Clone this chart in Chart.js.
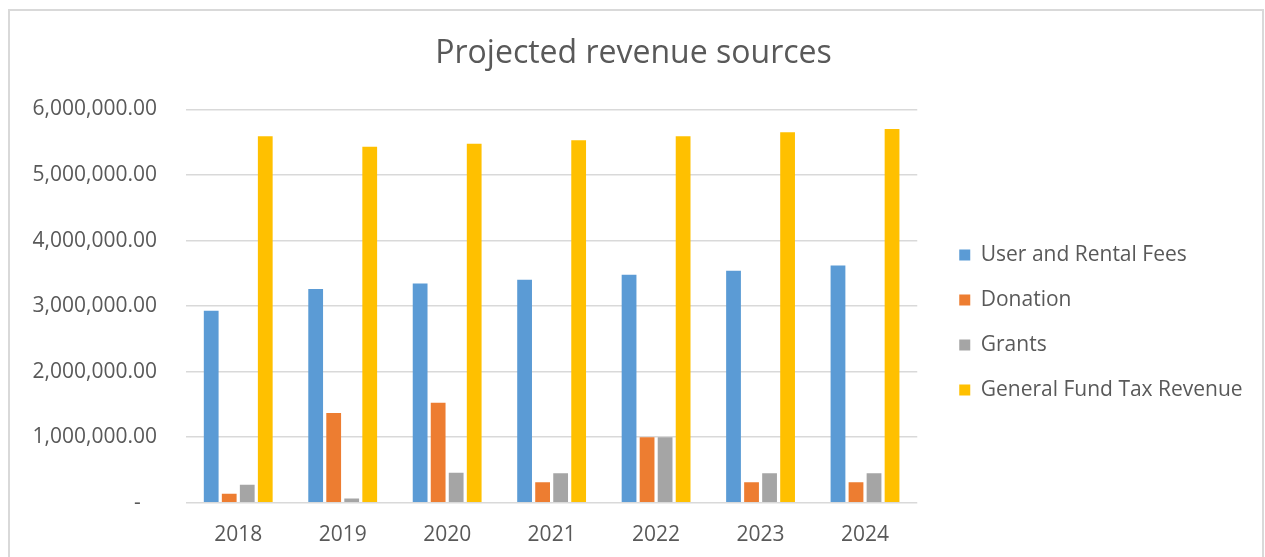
<!DOCTYPE html>
<html>
<head>
<meta charset="utf-8">
<script src="https://cdn.jsdelivr.net/npm/chart.js@4"></script>
<style>
    html, body { margin: 0; padding: 0; background: #fff; }
    #box {
        position: absolute;
        left: 8px;
        top: 9px;
        width: 1256px;
        height: 560px;
        border: 2px solid #d9d9d9;
        box-sizing: border-box;
    }
</style>
</head>
<body>
<div id="box"><canvas id="revenueChart"></canvas></div>
<script>
// values
let years = ["2018", "2019", "2020", "2021", "2022", "2023", "2024"];
let userRentalFees = [2930000, 3260000, 3345000, 3400000, 3480000, 3540000, 3620000];
let donation = [137000, 1370000, 1525000, 315000, 1000000, 315000, 315000];
let grants = [275000, 66000, 457000, 450000, 1000000, 450000, 450000];
let generalFundTax = [5590000, 5430000, 5475000, 5530000, 5590000, 5650000, 5700000];
let yTicks = [0, 1000000, 2000000, 3000000, 4000000, 5000000, 6000000];

let textColor = "#595959";
let fontName = "'Open Sans', sans-serif";

function fmt(v) {
    if (v === 0) return "-   ";
    return v.toLocaleString("en-US", { minimumFractionDigits: 2, maximumFractionDigits: 2 });
}

// leave some extra room between the plot and the legend, and nudge the legend down
let legendGap = 18;
let legendDrop = 37;
let legendSpacing = {
    id: "legendSpacing",
    beforeLayout(chart) {
        let lg = chart.legend;
        if (lg && !lg._gapPatched) {
            let fit = lg.fit;
            lg.fit = function() { fit.call(this); this.width += legendGap; };
            lg._gapPatched = true;
        }
    },
    afterLayout(chart) {
        let lg = chart.legend;
        lg.left += legendGap;
        lg.right += legendGap;
        lg.top += legendDrop;
        lg.bottom += legendDrop;
    }
};

let ctx = document.getElementById("revenueChart").getContext("2d");
window.revenueChart = new Chart(ctx, {
    type: "bar",
    data: {
        labels: years,
        datasets: [
            { label: "User and Rental Fees", data: userRentalFees, backgroundColor: "#5B9BD5" },
            { label: "Donation", data: donation, backgroundColor: "#ED7D31" },
            { label: "Grants", data: grants, backgroundColor: "#A5A5A5" },
            { label: "General Fund Tax Revenue", data: generalFundTax, backgroundColor: "#FFC000" }
        ]
    },
    plugins: [legendSpacing],
    options: {
        responsive: true,
        maintainAspectRatio: false,
        animation: false,
        datasets: {
            bar: { barPercentage: 0.82, categoryPercentage: 0.69 }
        },
        layout: { padding: { left: 20, right: 25, top: 0, bottom: 7 } },
        plugins: {
            title: {
                display: true,
                text: "Projected revenue sources",
                color: textColor,
                font: { family: fontName, size: 32, weight: "normal" },
                padding: { top: 24, bottom: 36 }
            },
            legend: {
                position: "right",
                labels: {
                    color: textColor,
                    font: { family: fontName, size: 21 },
                    boxWidth: 11,
                    boxHeight: 11,
                    padding: 24
                }
            },
            tooltip: { enabled: false }
        },
        scales: {
            x: {
                grid: { display: false },
                border: { display: false },
                ticks: { color: textColor, font: { family: fontName, size: 21 }, padding: 12 }
            },
            y: {
                min: 0,
                max: 6000000,
                afterBuildTicks: function(axis) {
                    axis.ticks = yTicks.map(v => ({ value: v }));
                },
                afterFit: function(axis) { axis.width = 156; },
                grid: { color: "#d9d9d9", lineWidth: 1.5, drawTicks: false },
                border: { display: false },
                ticks: {
                    color: textColor,
                    font: { family: fontName, size: 21 },
                    padding: 29,
                    callback: function(value) { return fmt(value); }
                }
            }
        }
    }
});
</script>
</body>
</html>
